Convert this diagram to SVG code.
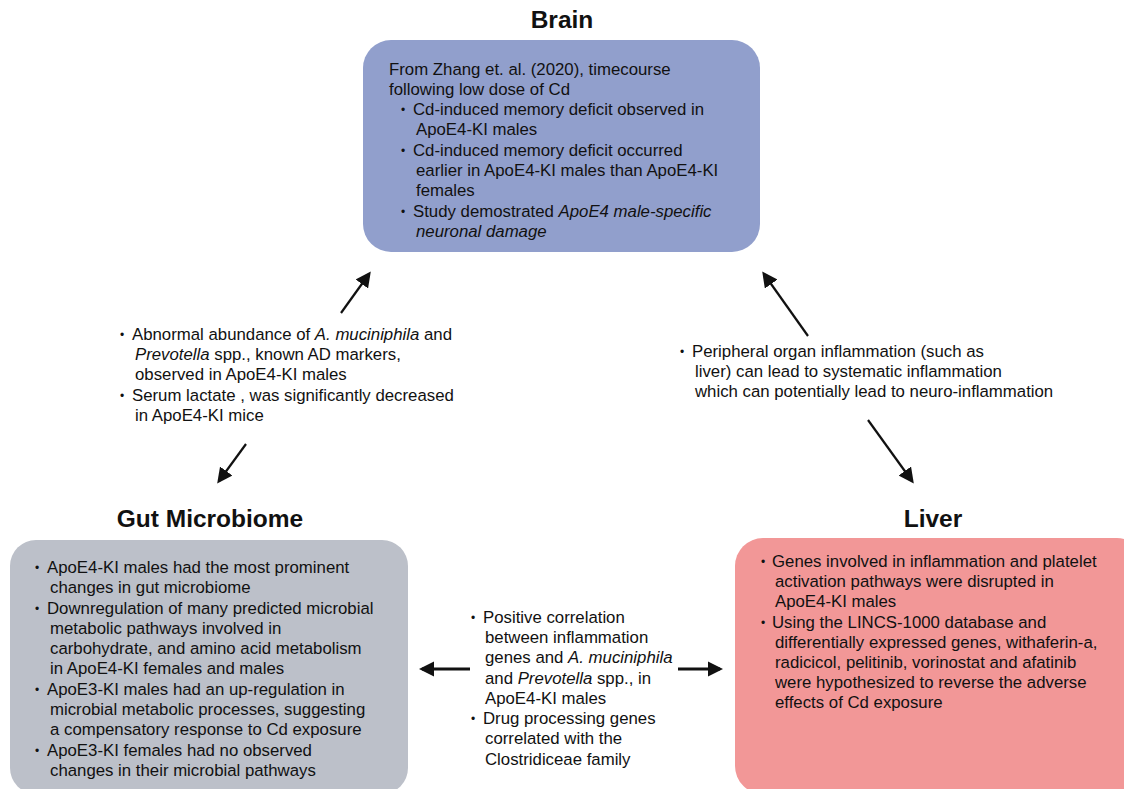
<svg xmlns="http://www.w3.org/2000/svg" width="1124" height="789" viewBox="0 0 1124 789">
<style>
.t{font-family:"Liberation Sans",Arial,sans-serif;font-size:16.8px;fill:#111}
.h{font-family:"Liberation Sans",Arial,sans-serif;font-size:24.5px;font-weight:bold;fill:#111;text-anchor:middle}
.b{font-family:"Liberation Sans",Arial,sans-serif;font-size:12px;fill:#111}
.c{stroke:#111;stroke-width:2.2;fill:none}
.ch{stroke:#111;stroke-width:3;fill:none}
</style>
<defs>
<marker id="ah" viewBox="0 0 10 10" refX="8" refY="5" markerWidth="7" markerHeight="7" orient="auto" markerUnits="strokeWidth">
<path d="M0,0 L10,5 L0,10 z" fill="#111"/>
</marker>
<marker id="ah2" viewBox="0 0 10 10" refX="8" refY="5" markerWidth="5" markerHeight="5.3" orient="auto" markerUnits="strokeWidth">
<path d="M0,0 L10,5 L0,10 z" fill="#111"/>
</marker>
</defs>
<rect width="1124" height="789" fill="#fff"/>

<g id="brain">
<text class="h" x="562" y="28">Brain</text>
<rect x="363" y="40" width="397" height="212" rx="28" fill="#919fcc"/>
<text class="t" x="389" y="75">From Zhang et. al. (2020), timecourse</text>
<text class="t" x="389" y="95">following low dose of Cd</text>
<text class="b" x="401" y="114">•</text>
<text class="t" x="413" y="115">Cd-induced memory deficit observed in</text>
<text class="t" x="416" y="135">ApoE4-KI males</text>
<text class="b" x="401" y="155">•</text>
<text class="t" x="413" y="156">Cd-induced memory deficit occurred</text>
<text class="t" x="416" y="176">earlier in ApoE4-KI males than ApoE4-KI</text>
<text class="t" x="416" y="196">females</text>
<text class="b" x="401" y="216">•</text>
<text class="t" x="413" y="217">Study demostrated <tspan font-style="italic">ApoE4 male-specific</tspan></text>
<text class="t" x="416" y="237" font-style="italic">neuronal damage</text>
</g>

<g id="gut">
<text class="h" x="210" y="527">Gut Microbiome</text>
<rect x="10" y="540" width="398" height="254" rx="26" fill="#bcc0c9"/>
<text class="b" x="35" y="572">•</text>
<text class="t" x="47" y="573">ApoE4-KI males had the most prominent</text>
<text class="t" x="50" y="593">changes in gut microbiome</text>
<text class="b" x="35" y="613">•</text>
<text class="t" x="47" y="614">Downregulation of many predicted microbial</text>
<text class="t" x="50" y="634">metabolic pathways involved in</text>
<text class="t" x="50" y="654">carbohydrate, and amino acid metabolism</text>
<text class="t" x="50" y="674">in ApoE4-KI females and males</text>
<text class="b" x="35" y="694">•</text>
<text class="t" x="47" y="695">ApoE3-KI males had an up-regulation in</text>
<text class="t" x="50" y="715">microbial metabolic processes, suggesting</text>
<text class="t" x="50" y="735">a compensatory response to Cd exposure</text>
<text class="b" x="35" y="755">•</text>
<text class="t" x="47" y="756">ApoE3-KI females had no observed</text>
<text class="t" x="50" y="776">changes in their microbial pathways</text>
</g>

<g id="liver">
<text class="h" x="933" y="527">Liver</text>
<rect x="735" y="538" width="410" height="256" rx="28" fill="#f29797"/>
<text class="b" x="761" y="566">•</text>
<text class="t" x="772" y="567">Genes involved in inflammation and platelet</text>
<text class="t" x="775" y="587">activation pathways were disrupted in</text>
<text class="t" x="775" y="607">ApoE4-KI males</text>
<text class="b" x="761" y="627">•</text>
<text class="t" x="772" y="628">Using the LINCS-1000 database and</text>
<text class="t" x="775" y="648">differentially expressed genes, withaferin-a,</text>
<text class="t" x="775" y="668">radicicol, pelitinib, vorinostat and afatinib</text>
<text class="t" x="775" y="688">were hypothesized to reverse the adverse</text>
<text class="t" x="775" y="708">effects of Cd exposure</text>
</g>

<g id="gut-brain-label">
<text class="b" x="120" y="339">•</text>
<text class="t" x="132" y="340">Abnormal abundance of <tspan font-style="italic">A. muciniphila</tspan> and</text>
<text class="t" x="135" y="360"><tspan font-style="italic">Prevotella</tspan> spp., known AD markers,</text>
<text class="t" x="135" y="380">observed in ApoE4-KI males</text>
<text class="b" x="120" y="400">•</text>
<text class="t" x="132" y="401">Serum lactate , was significantly decreased</text>
<text class="t" x="135" y="421">in ApoE4-KI mice</text>
</g>

<g id="liver-brain-label">
<text class="b" x="680" y="356">•</text>
<text class="t" x="692" y="357">Peripheral organ inflammation (such as</text>
<text class="t" x="695" y="377">liver) can lead to systematic inflammation</text>
<text class="t" x="695" y="397">which can potentially lead to neuro-inflammation</text>
</g>

<g id="gut-liver-label">
<text class="b" x="471" y="622">•</text>
<text class="t" x="483" y="623">Positive correlation</text>
<text class="t" x="485" y="643">between inflammation</text>
<text class="t" x="485" y="663">genes and <tspan font-style="italic">A. muciniphila</tspan></text>
<text class="t" x="485" y="684">and <tspan font-style="italic">Prevotella</tspan> spp., in</text>
<text class="t" x="485" y="704">ApoE4-KI males</text>
<text class="b" x="471" y="723">•</text>
<text class="t" x="483" y="724">Drug processing genes</text>
<text class="t" x="485" y="744">correlated with the</text>
<text class="t" x="485" y="765">Clostridiceae family</text>
</g>

<g id="connectors">
<line class="c" x1="341" y1="313" x2="369" y2="274" marker-end="url(#ah)"/>
<line class="c" x1="246" y1="444" x2="219" y2="481" marker-end="url(#ah)"/>
<line class="c" x1="808" y1="336" x2="764" y2="274" marker-end="url(#ah)"/>
<line class="c" x1="868" y1="420" x2="912" y2="481" marker-end="url(#ah)"/>
<line class="ch" x1="470" y1="669" x2="422" y2="669" marker-end="url(#ah2)"/>
<line class="ch" x1="678" y1="669" x2="720" y2="669" marker-end="url(#ah2)"/>
</g>
</svg>
